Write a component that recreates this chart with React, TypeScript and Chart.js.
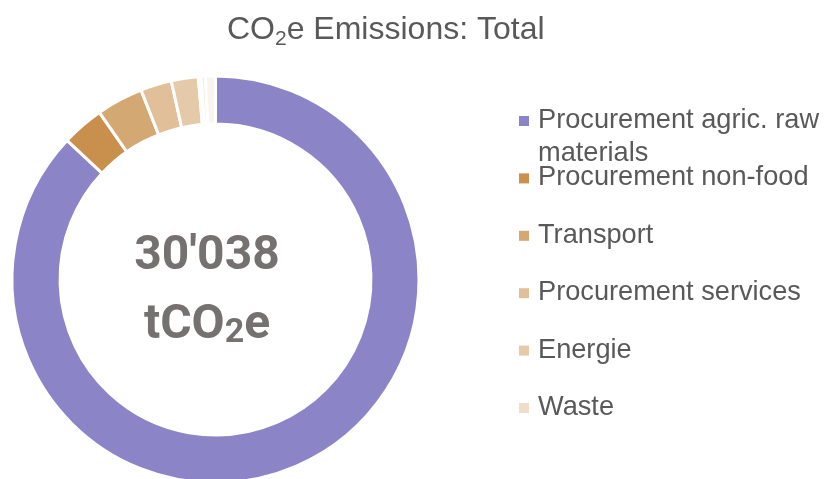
import React, { useEffect, useRef } from "react";
import { Chart, registerables } from "chart.js";

Chart.register(...registerables);

// ---- Data ----
const categories = [
  "Procurement agric. raw materials",
  "Procurement non-food",
  "Transport",
  "Procurement services",
  "Energie",
  "Waste",
];
const values = [26128, 1006, 1114, 742, 643, 67];
// very small residual slices without legend entry (visible as faint slivers at the top)
const minorValues = [101, 237];

const colors = ["#8B84C6", "#C98F4C", "#D4A873", "#E0BF99", "#E5CAA9", "#EEDDC8"];
const minorColors = ["#F4E9DC", "#FAF4EE"];

const titleParts = ["CO", "2", "e Emissions: Total"];
const centerUnitParts = ["tCO", "2", "e"];

function formatTotal(n: number): string {
  return String(Math.round(n)).replace(/\B(?=(\d{3})+(?!\d))/g, "'");
}

function wrap(ctx: CanvasRenderingContext2D, text: string, maxW: number): string[] {
  const words = text.split(" ");
  const lines: string[] = [];
  let cur = "";
  for (const w of words) {
    const test = cur ? cur + " " + w : w;
    if (ctx.measureText(test).width > maxW && cur) {
      lines.push(cur);
      cur = w;
    } else cur = test;
  }
  if (cur) lines.push(cur);
  return lines;
}

const overlayPlugin = {
  id: "overlay",
  afterDraw(chart: any) {
    const ctx: CanvasRenderingContext2D = chart.ctx;
    ctx.save();
    ctx.textBaseline = "alphabetic";
    ctx.textAlign = "left";

    // Title
    const tf = 32;
    ctx.fillStyle = "#595959";
    let x = 227;
    const tb = 39;
    ctx.font = `${tf}px "Liberation Sans", Arial, sans-serif`;
    ctx.fillText(titleParts[0], x, tb);
    x += ctx.measureText(titleParts[0]).width;
    ctx.font = `${Math.round(tf * 0.66)}px "Liberation Sans", Arial, sans-serif`;
    ctx.fillText(titleParts[1], x, tb + 6);
    x += ctx.measureText(titleParts[1]).width;
    ctx.font = `${tf}px "Liberation Sans", Arial, sans-serif`;
    ctx.fillText(titleParts[2], x, tb);

    // Center text
    const total = [...values, ...minorValues].reduce((a, b) => a + b, 0);
    const cx = 207;
    ctx.fillStyle = "#767171";
    ctx.textAlign = "center";
    ctx.font = `bold 48px Roboto, "Liberation Sans", sans-serif`;
    ctx.fillText(formatTotal(total), cx, 269);
    ctx.textAlign = "left";
    const bigF = `bold 48px Roboto, "Liberation Sans", sans-serif`;
    const smallF = `bold 34px Roboto, "Liberation Sans", sans-serif`;
    ctx.font = bigF;
    const w0 = ctx.measureText(centerUnitParts[0]).width;
    const w2 = ctx.measureText(centerUnitParts[2]).width;
    ctx.font = smallF;
    const w1 = ctx.measureText(centerUnitParts[1]).width;
    let ux = cx - (w0 + w1 + w2) / 2;
    const ub = 338;
    ctx.font = bigF;
    ctx.fillText(centerUnitParts[0], ux, ub);
    ux += w0;
    ctx.font = smallF;
    ctx.fillText(centerUnitParts[1], ux, ub + 4);
    ux += w1;
    ctx.font = bigF;
    ctx.fillText(centerUnitParts[2], ux, ub);

    // Legend
    ctx.font = `27.2px "Liberation Sans", Arial, sans-serif`;
    const lx = 538;
    const pitch = 57.4;
    categories.forEach((label, i) => {
      const base = 128 + i * pitch;
      ctx.fillStyle = colors[i];
      ctx.fillRect(519, base - 12, 10, 10);
      ctx.fillStyle = "#595959";
      const lines = wrap(ctx, label, 825 - lx - 2);
      lines.forEach((ln, j) => ctx.fillText(ln, lx, base + j * 33));
    });

    ctx.restore();
  },
};

export default function App() {
  const ref = useRef<HTMLCanvasElement | null>(null);
  useEffect(() => {
    if (!ref.current) return;
    const chart = new Chart(ref.current, {
      type: "doughnut",
      data: {
        labels: [...categories, "", ""],
        datasets: [
          {
            data: [...values, ...minorValues],
            backgroundColor: [...colors, ...minorColors],
            borderColor: "#ffffff",
            borderWidth: 3,
          },
        ],
      },
      options: {
        responsive: false,
        animation: false,
        cutout: "76.4%",
        layout: { padding: { left: 10.5, top: 74.5, right: 404.5, bottom: 5.5 } },
        plugins: {
          legend: { display: false },
          title: { display: false },
          tooltip: { enabled: false },
        },
      },
      plugins: [overlayPlugin],
    });
    return () => chart.destroy();
  }, []);

  return (
    <div style={{ position: "fixed", left: 0, top: 0, width: 825, height: 479, overflow: "hidden", background: "#fff" }}>
      <canvas ref={ref} width={825} height={490} style={{ display: "block" }} />
    </div>
  );
}
